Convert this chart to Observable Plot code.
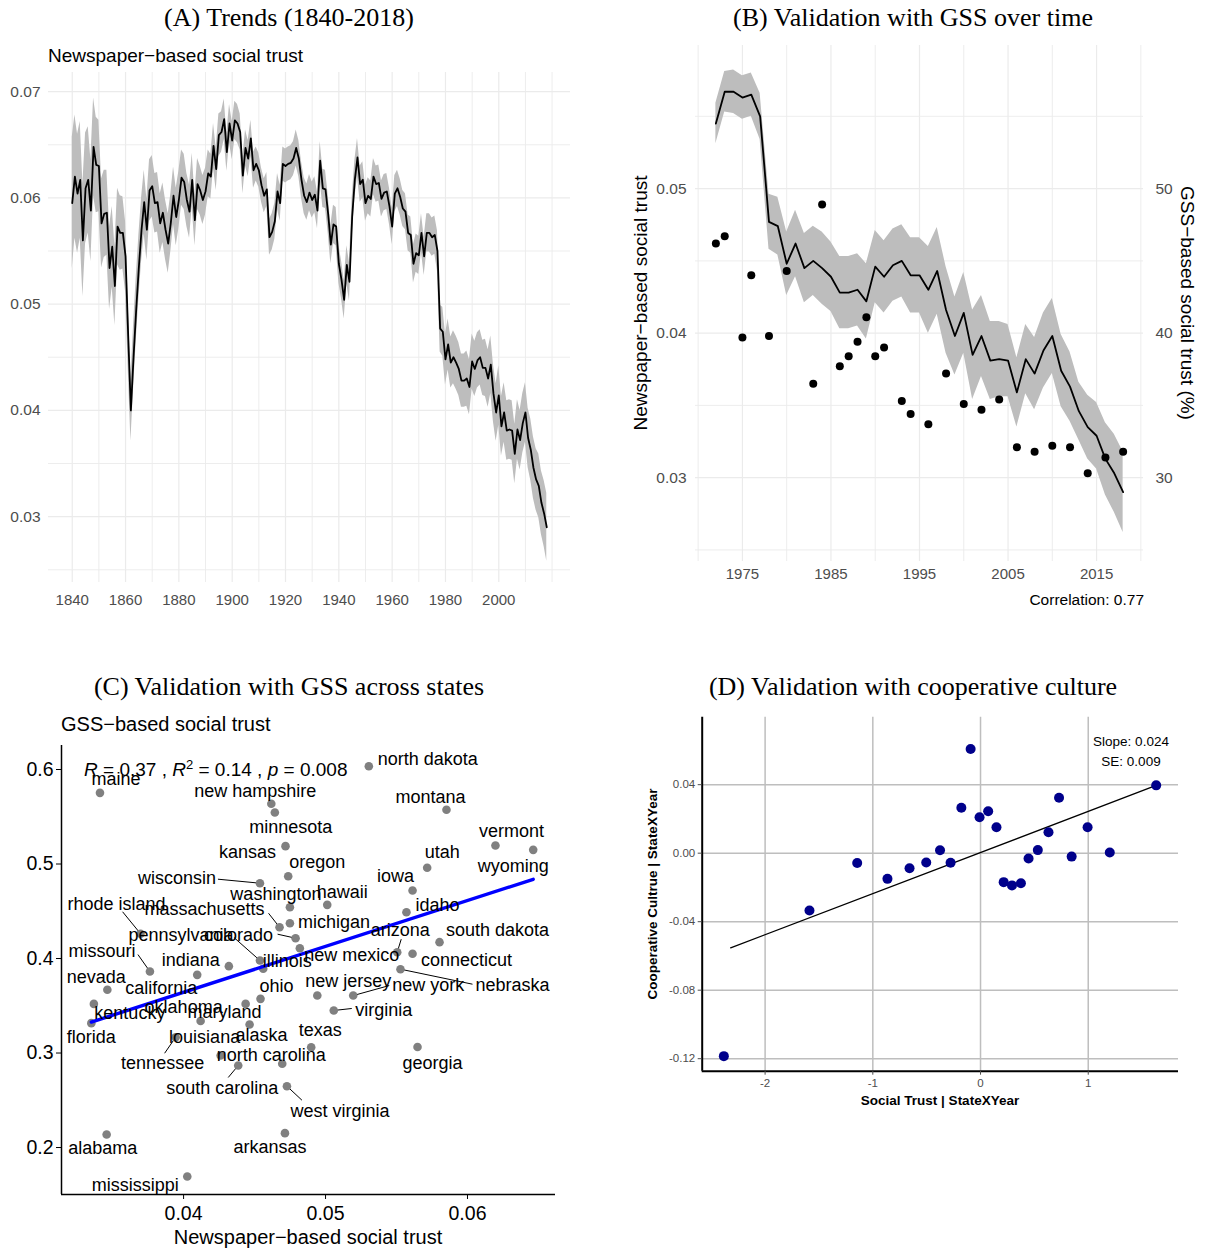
<!DOCTYPE html>
<html><head><meta charset="utf-8">
<script src="https://cdn.jsdelivr.net/npm/d3@7"></script>
<script src="https://cdn.jsdelivr.net/npm/@observablehq/plot@0.6"></script>
<style>
body{margin:0;background:#fff;}
#root{position:relative;width:1209px;height:1249px;overflow:hidden;background:#fff;font-family:"Liberation Sans",Arial,sans-serif;}
.abs{position:absolute;white-space:nowrap;line-height:1;color:#000;}
.c{transform:translate(-50%,-50%);}
.l{transform:translate(0,-50%);}
.r{transform:translate(-100%,-50%);}
.title{font-family:"Liberation Serif","Times New Roman",serif;font-size:26px;}
.rotL{transform:translate(-50%,-50%) rotate(-90deg);}
.rotR{transform:translate(-50%,-50%) rotate(90deg);}
.panel{position:absolute;}
</style></head><body><div id="root"></div>
<script>
// ---------- Panel A: newspaper-based social trust, 1840-2018 ----------
const startYearA = 1840;
const trustA = [
0.0595,0.0620,0.0604,0.0617,0.0560,0.0609,0.0617,0.0588,0.0648,0.0631,
0.0630,0.0576,0.0585,0.0586,0.0534,0.0554,0.0517,0.0573,0.0567,0.0567,
0.0545,0.0470,0.0400,0.0450,0.0495,0.0535,0.0570,0.0596,0.0570,0.0607,
0.0611,0.0595,0.0596,0.0576,0.0586,0.0570,0.0557,0.0577,0.0602,0.0582,
0.0598,0.0619,0.0615,0.0598,0.0587,0.0617,0.0579,0.0613,0.0607,0.0598,
0.0606,0.0623,0.0620,0.0649,0.0627,0.0659,0.0662,0.0674,0.0643,0.0670,
0.0654,0.0673,0.0670,0.0662,0.0621,0.0647,0.0637,0.0656,0.0626,0.0632,
0.0626,0.0612,0.0602,0.0608,0.0563,0.0568,0.0578,0.0606,0.0595,0.0632,
0.0630,0.0632,0.0633,0.0637,0.0647,0.0637,0.0617,0.0602,0.0596,0.0605,
0.0598,0.0603,0.0588,0.0635,0.0609,0.0608,0.0585,0.0556,0.0575,0.0573,
0.0538,0.0523,0.0504,0.0537,0.0521,0.0582,0.0617,0.0638,0.0613,0.0617,
0.0595,0.0602,0.0599,0.0620,0.0613,0.0614,0.0599,0.0605,0.0606,0.0592,
0.0573,0.0604,0.0609,0.0601,0.0590,0.0587,0.0567,0.0565,0.0538,0.0548,
0.0546,0.0567,0.0545,0.0567,0.0567,0.0563,0.0565,0.0550,0.0477,0.0474,
0.0448,0.0462,0.0445,0.0450,0.0445,0.0439,0.0428,0.0428,0.0430,0.0422,
0.0446,0.0439,0.0447,0.0450,0.0440,0.0440,0.0430,0.0443,0.0416,0.0398,
0.0414,0.0385,0.0398,0.0381,0.0382,0.0381,0.0359,0.0382,0.0372,0.0388,
0.0398,0.0374,0.0363,0.0346,0.0335,0.0329,0.0313,0.0303,0.0290];
const ciA = [
.0062,.0058,.0056,.0055,.0053,.0052,.0050,.0048,.0046,.0045,
.0043,.0042,.0041,.0040,.0039,.0038,.0037,.0036,.0035,.0034,
.0033,.0031,.0029,.0030,.0030,.0030,.0030,.0030,.0029,.0029,
.0029,.0028,.0028,.0028,.0028,.0028,.0028,.0027,.0027,.0027,
.0027,.0026,.0026,.0025,.0025,.0025,.0024,.0024,.0023,.0023,
.0022,.0022,.0021,.0021,.0020,.0020,.0019,.0019,.0018,.0018,
.0018,.0018,.0018,.0017,.0017,.0017,.0017,.0017,.0017,.0016,
.0016,.0016,.0016,.0016,.0017,.0017,.0017,.0017,.0017,.0016,
.0016,.0016,.0016,.0016,.0017,.0017,.0017,.0017,.0017,.0017,
.0017,.0017,.0017,.0018,.0018,.0018,.0018,.0018,.0018,.0018,
.0018,.0018,.0018,.0018,.0018,.0018,.0018,.0018,.0017,.0017,
.0017,.0017,.0017,.0017,.0017,.0017,.0017,.0017,.0017,.0017,
.0017,.0017,.0017,.0017,.0017,.0017,.0017,.0017,.0018,.0018,
.0018,.0018,.0018,.0018,.0018,.0018,.0018,.0019,.0022,.0023,
.0024,.0024,.0024,.0025,.0025,.0025,.0025,.0025,.0026,.0026,
.0026,.0026,.0026,.0026,.0026,.0027,.0027,.0027,.0027,.0027,
.0028,.0028,.0028,.0028,.0028,.0028,.0028,.0028,.0028,.0028,
.0028,.0028,.0029,.0029,.0029,.0030,.0030,.0031,.0032];
const xTicksA = [1840,1860,1880,1900,1920,1940,1960,1980,2000];
const xGridMajorA = [1840,1860,1880,1900,1920,1940,1960,1980,2000];
const xGridMinorA = [1850,1870,1890,1910,1930,1950,1970,1990,2010,2020];
const yTicksA = [0.03,0.04,0.05,0.06,0.07];
const yGridMinorA = [0.025,0.035,0.045,0.055,0.065];

// ---------- Panel B: GSS validation over time ----------
const startYearB = 1972;
const ciB = [
.0014,.0014,.0015,.0015,.0015,.0016,.0019,.0020,.0022,.0023,
.0024,.0024,.0025,.0024,.0025,.0025,.0025,.0026,.0025,.0025,
.0025,.0025,.0026,.0026,.0030,.0030,.0030,.0027,.0028,.0031,
.0028,.0027,.0026,.0025,.0024,.0024,.0025,.0026,.0026,.0025,
.0024,.0020,.0022,.0023,.0025,.0027,.0028];
const gssYears = [1972,1973,1975,1976,1978,1980,1983,1984,1986,1987,1988,1989,1990,1991,1993,1994,1996,1998,2000,2002,2004,2006,2008,2010,2012,2014,2016,2018];
const gssPct   = [46.2,46.7,39.7,44.0,39.8,44.3,36.5,48.9,37.7,38.4,39.4,41.1,38.4,39.0,35.3,34.4,33.7,37.2,35.1,34.7,35.4,32.1,31.8,32.2,32.1,30.3,31.4,31.8];
const xTicksB = [1975,1985,1995,2005,2015];
const xGridMinorB = [1970,1980,1990,2000,2010,2020];
const yTicksB = [0.03,0.04,0.05];
const yGridMinorB = [0.025,0.035,0.045,0.055];
const correlationB = "0.77";

// ---------- Panel C: GSS validation across states ----------
const stateNames = ["maine","new hampshire","minnesota","kansas","oregon","wisconsin","washington","hawaii","massachusetts","michigan","colorado","rhode island","new mexico","pennsylvania","illinois","indiana","missouri","california","nevada","kentucky","florida","ohio","oklahoma","maryland","alaska","tennessee","louisiana","south carolina","north carolina","texas","new jersey","new york","virginia","georgia","west virginia","alabama","arkansas","mississippi","north dakota","montana","vermont","wyoming","utah","iowa","idaho","south dakota","arizona","connecticut","nebraska"];
const stateNewspaper = [0.03411,0.04618,0.04643,0.04718,0.04737,0.04538,0.04749,0.05012,0.04676,0.04749,0.04789,0.03697,0.04819,0.04538,0.04561,0.04319,0.03763,0.04096,0.03463,0.03368,0.03350,0.04542,0.04120,0.04437,0.04465,0.03944,0.04261,0.04385,0.04695,0.04899,0.04942,0.05195,0.05058,0.05648,0.04728,0.03458,0.04714,0.04026,0.05305,0.05852,0.06197,0.06463,0.05716,0.05613,0.05570,0.05803,0.05505,0.05613,0.05528];
const stateGSS = [0.5753,0.5637,0.5545,0.5189,0.4871,0.4797,0.4543,0.4568,0.4331,0.4373,0.4215,0.4262,0.4109,0.3979,0.3891,0.3919,0.3862,0.3827,0.3669,0.3520,0.3316,0.3573,0.3339,0.3520,0.3302,0.3167,0.2974,0.2868,0.2886,0.3061,0.3608,0.3608,0.3450,0.3063,0.2649,0.2138,0.2152,0.1693,0.6035,0.5574,0.5196,0.5150,0.4960,0.4720,0.4490,0.4173,0.4067,0.4050,0.3887];
const fitC = {intercept: 0.1702, slope: 4.852};
const statsC = {R: "0.37", R2: "0.14", p: "0.008"};
const xTicksC = [0.04,0.05,0.06];
const yTicksC = [0.2,0.3,0.4,0.5,0.6];
// label nudges (px) for the repelled labels, and connector end offsets (px)
const labelNudge = [[16,-14],[-16,-13],[16,15],[-38,6],[29,-14],[-83,-5],[-14,-13],[15,-13],[-75,-18],[44,-1],[-57,-3],[-24,-30],[52,7],[-79,-25],[24,-8],[-38,-6],[-48,-20],[-36,13],[-11,-13],[36,9],[0,14],[16,-13],[-17,-14],[-21,8],[12,11],[-13,26],[-16,-18],[-16,23],[-11,-9],[9,-17],[31,-14],[75,-10],[50,0],[15,16],[53,25],[-4,14],[-15,14],[-52,9],[59,-7],[-16,-13],[16,-14],[-20,16],[15,-16],[-17,-14],[31,-7],[58,-12],[3,-22],[54,6],[112,16]];
const connector = {"wisconsin":[-42,-4],"rhode island":[-18,-22],"massachusetts":[-11,-14],"pennsylvania":[-26,-23],"colorado":[-18,-4],"arizona":[4,-13],"missouri":[-12,-17],"new york":[36,-10],"nebraska":[72,15],"virginia":[18,-2],"tennessee":[-11,16],"south carolina":[-10,12],"west virginia":[15,14]};

// ---------- Panel D: cooperative culture ----------
const socialTrustD = [-2.383,-1.588,-1.145,-0.864,-0.659,-0.504,-0.376,-0.278,-0.092,-0.178,-0.009,0.071,0.148,0.215,0.292,0.375,0.446,0.532,0.631,0.729,0.846,0.994,1.200,1.631];
const coopCultureD = [-0.1185,-0.0335,-0.0057,-0.0150,-0.0088,-0.0054,0.0017,-0.0056,0.0608,0.0265,0.0210,0.0245,0.0151,-0.0169,-0.0188,-0.0176,-0.0031,0.0018,0.0122,0.0324,-0.0020,0.0151,0.0004,0.0396];
const fitD = {slope: 0.024, intercept: 0.0004, se: "0.009", from: -2.32, to: 1.631};
const xTicksD = [-2,-1,0,1];
const yTicksD = [-0.12,-0.08,-0.04,0.00,0.04];

// ================= drawing =================
const FONT = '"Liberation Sans", Arial, Helvetica, sans-serif';
const root = document.getElementById("root");
function place(node, left, top){ const d=document.createElement("div"); d.className="panel"; d.style.left=left+"px"; d.style.top=top+"px"; d.appendChild(node); root.appendChild(d); }
function txt(html, x, y, cls, style){ const d=document.createElement("div"); d.className="abs "+cls; d.style.left=x+"px"; d.style.top=y+"px"; d.innerHTML=html; if(style) Object.assign(d.style, style); root.appendChild(d); }
const gridCol = "#ebebeb";

// Panel A
const dataA = trustA.map((v,i)=>({year:startYearA+i, v, lo:v-ciA[i], hi:v+ciA[i]}));
const plotA = Plot.plot({
  width:600, height:620, marginLeft:48, marginRight:30, marginTop:72, marginBottom:38,
  x:{domain:[1831.1,2026.9]}, y:{domain:[0.0238,0.0718]},
  style:{fontFamily:FONT, background:"transparent"},
  marks:[
    Plot.gridX(xGridMinorA,{stroke:gridCol,strokeOpacity:1,strokeWidth:0.9}),
    Plot.gridX(xGridMajorA,{stroke:gridCol,strokeOpacity:1,strokeWidth:1.2}),
    Plot.gridY(yGridMinorA,{stroke:gridCol,strokeOpacity:1,strokeWidth:0.9}),
    Plot.gridY(yTicksA,{stroke:gridCol,strokeOpacity:1,strokeWidth:1.2}),
    Plot.areaY(dataA,{x:"year",y1:"lo",y2:"hi",fill:"#bdbdbd"}),
    Plot.lineY(dataA,{x:"year",y:"v",stroke:"#000",strokeWidth:1.8}),
    Plot.axisX(xTicksA,{tickSize:0,tickPadding:12,fontSize:15,color:"#4d4d4d",tickFormat:d=>String(d),label:null}),
    Plot.axisY(yTicksA,{tickSize:0,tickPadding:8,fontSize:15.5,color:"#4d4d4d",tickFormat:d3.format(".2f"),label:null})
  ]
});
place(plotA,0,0);

// Panel B
const dataB = dataA.filter(d=>d.year>=startYearB).map((d,i)=>({year:d.year, v:d.v, lo:d.v-ciB[i], hi:d.v+ciB[i]}));
const gssB = gssYears.map((y,i)=>({year:y, v:gssPct[i]/1000}));
const plotB = Plot.plot({
  width:609, height:620, marginLeft:95, marginRight:66, marginTop:45, marginBottom:59,
  x:{domain:[1969.7,2020.3]}, y:{domain:[0.0242,0.0599]},
  style:{fontFamily:FONT, background:"transparent"},
  marks:[
    Plot.gridX(xGridMinorB,{stroke:gridCol,strokeOpacity:1,strokeWidth:0.9}),
    Plot.gridX(xTicksB,{stroke:gridCol,strokeOpacity:1,strokeWidth:1.2}),
    Plot.gridY(yGridMinorB,{stroke:gridCol,strokeOpacity:1,strokeWidth:0.9}),
    Plot.gridY(yTicksB,{stroke:gridCol,strokeOpacity:1,strokeWidth:1.2}),
    Plot.areaY(dataB,{x:"year",y1:"lo",y2:"hi",fill:"#bdbdbd"}),
    Plot.lineY(dataB,{x:"year",y:"v",stroke:"#000",strokeWidth:1.8}),
    Plot.dot(gssB,{x:"year",y:"v",r:4,fill:"#000",stroke:"none"}),
    Plot.axisX(xTicksB,{tickSize:0,tickPadding:7,fontSize:15,color:"#4d4d4d",tickFormat:d=>String(d),label:null}),
    Plot.axisY(yTicksB,{tickSize:0,tickPadding:9,fontSize:15.5,color:"#4d4d4d",tickFormat:d3.format(".2f"),label:null}),
    Plot.axisY(yTicksB,{anchor:"right",tickSize:0,tickPadding:12,fontSize:15.5,color:"#4d4d4d",tickFormat:d=>String(Math.round(d*1000)),label:null})
  ]
});
place(plotB,600,0);

// Panel C
const cW=600,cH=549,cML=61,cMR=45,cMT=45,cMB=55;
const cDomX=[0.0314,0.0662], cDomY=[0.1503,0.6254];
const kx=(cW-cML-cMR)/(cDomX[1]-cDomX[0]), ky=(cH-cMT-cMB)/(cDomY[1]-cDomY[0]);
const statesC = stateNames.map((n,i)=>({name:n, x:stateNewspaper[i], y:stateGSS[i],
  lx: stateNewspaper[i]+labelNudge[i][0]/kx, ly: stateGSS[i]-labelNudge[i][1]/ky}));
const segC = statesC.filter(d=>connector[d.name]).map(d=>({x:d.x,y:d.y,x2:d.x+connector[d.name][0]/kx,y2:d.y-connector[d.name][1]/ky}));
const xs = d3.extent(stateNewspaper);
const fitLineC = xs.map(x=>({x, y:fitC.intercept+fitC.slope*x}));
const plotC = Plot.plot({
  width:cW, height:cH, marginLeft:cML, marginRight:cMR, marginTop:cMT, marginBottom:cMB,
  x:{domain:cDomX}, y:{domain:cDomY},
  style:{fontFamily:FONT, background:"transparent"},
  marks:[
    Plot.link(segC,{x1:"x",y1:"y",x2:"x2",y2:"y2",stroke:"#000",strokeWidth:1}),
    Plot.dot(statesC,{x:"x",y:"y",r:4.3,fill:"#808080",stroke:"none"}),
    Plot.line(fitLineC,{x:"x",y:"y",stroke:"#0000ff",strokeWidth:3.4}),
    Plot.text(statesC,{x:"lx",y:"ly",text:"name",fontSize:18,fill:"#000"}),
    Plot.ruleX([cDomX[0]],{stroke:"#000",strokeWidth:1.5}),
    Plot.ruleY([cDomY[0]],{stroke:"#000",strokeWidth:1.5}),
    Plot.axisX(xTicksC,{tickSize:5,tickPadding:7,fontSize:19.5,color:"#000",tickFormat:d3.format(".2f"),label:null}),
    Plot.axisY(yTicksC,{tickSize:5,tickPadding:3,fontSize:19.5,color:"#000",tickFormat:d3.format(".1f"),label:null})
  ]
});
place(plotC,0,700);

// Panel D
const dataD = socialTrustD.map((x,i)=>({x, y:coopCultureD[i]}));
const fitLineD = [fitD.from, fitD.to].map(x=>({x, y:fitD.intercept+fitD.slope*x}));
const dDomX=[-2.584,1.838], dDomY=[-0.1273,0.0794];
const plotD = Plot.plot({
  width:609, height:549, marginLeft:101.7, marginRight:31, marginTop:16.7, marginBottom:178.3,
  x:{domain:dDomX}, y:{domain:dDomY},
  style:{fontFamily:FONT, background:"transparent"},
  marks:[
    Plot.gridX(xTicksD,{stroke:"#bebebe",strokeOpacity:1,strokeWidth:1.5}),
    Plot.gridY(yTicksD,{stroke:"#bebebe",strokeOpacity:1,strokeWidth:1.5}),
    Plot.line(fitLineD,{x:"x",y:"y",stroke:"#000",strokeWidth:1.3}),
    Plot.dot(dataD,{x:"x",y:"y",r:5,fill:"#00008b",stroke:"none"}),
    Plot.ruleX([dDomX[0]],{stroke:"#000",strokeWidth:2}),
    Plot.ruleY([dDomY[0]],{stroke:"#000",strokeWidth:2}),
    Plot.axisX(xTicksD,{tickSize:4,tickPadding:4,fontSize:11.5,color:"#4d4d4d",tickFormat:d=>String(d),label:null}),
    Plot.axisY(yTicksD,{tickSize:4,tickPadding:3,fontSize:11.5,color:"#4d4d4d",tickFormat:d=>d.toFixed(2),label:null})
  ]
});
place(plotD,600,700);

// Text: titles and axis titles
txt("(A) Trends (1840-2018)",289,18,"c title");
txt("(B) Validation with GSS over time",913,18,"c title");
txt("(C) Validation with GSS across states",289,687,"c title");
txt("(D) Validation with cooperative culture",913,687,"c title");
txt("Newspaper\u2212based social trust",48,55,"l",{fontSize:"19px"});
txt("Newspaper\u2212based social trust",640,303,"rotL",{fontSize:"19px"});
txt("GSS\u2212based social trust (%)",1187,303,"rotR",{fontSize:"19px"});
txt("Correlation: "+correlationB,1144,600,"r",{fontSize:"15.5px"});
txt("GSS\u2212based social trust",61,724,"l",{fontSize:"20px"});
txt("Newspaper\u2212based social trust",308,1237,"c",{fontSize:"20px"});
txt("<i>R</i> = "+statsC.R+" , <i>R</i><sup style='font-size:13px;vertical-align:0.5em;line-height:0'>2</sup> = "+statsC.R2+" , <i>p</i> = "+statsC.p,84,769,"l",{fontSize:"19px"});
txt("Social Trust | StateXYear",940,1101,"c",{fontSize:"13.5px",fontWeight:"bold"});
txt("Cooperative Cultrue | StateXYear",653,894,"rotL",{fontSize:"13.5px",fontWeight:"bold"});
txt("Slope: "+fitD.slope.toFixed(3),1131,742,"c",{fontSize:"13.5px"});
txt("SE: "+fitD.se,1131,762,"c",{fontSize:"13.5px"});
</script></body></html>
